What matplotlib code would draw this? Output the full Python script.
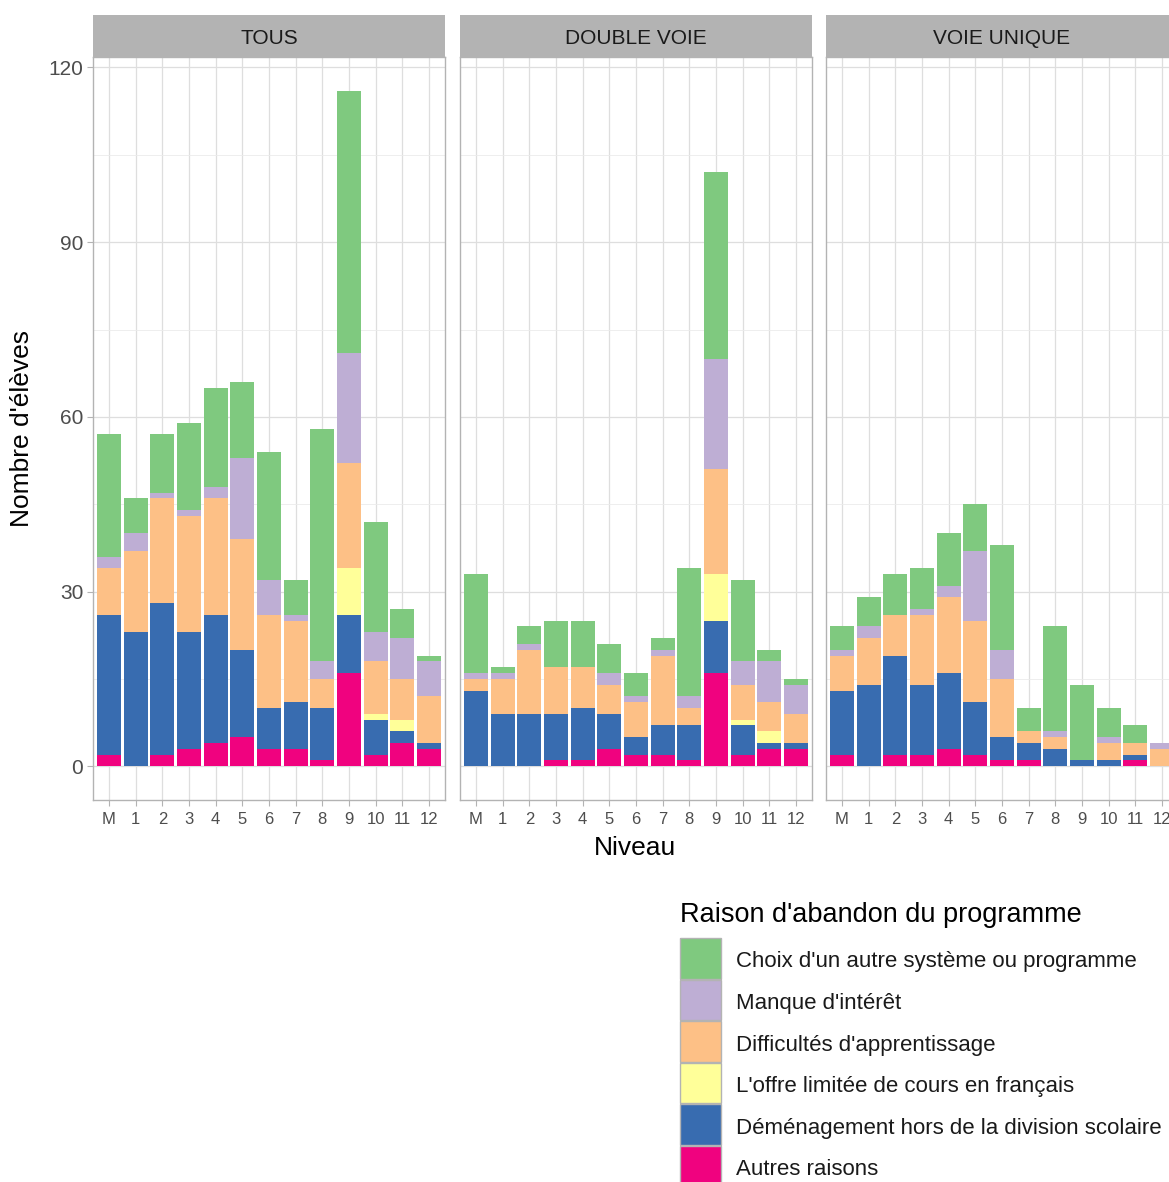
import numpy as np
import matplotlib
matplotlib.use('Agg')
import matplotlib.pyplot as plt
from matplotlib.patches import Rectangle

plt.rcParams['font.family'] = ['Liberation Sans', 'DejaVu Sans']

# Niveaux (axe x)
niveaux = ['M', '1', '2', '3', '4', '5', '6', '7', '8', '9', '10', '11', '12']

# Raisons, du bas vers le haut de la pile
raisons = ["Autres raisons",
           "Déménagement hors de la division scolaire",
           "L'offre limitée de cours en français",
           "Difficultés d'apprentissage",
           "Manque d'intérêt",
           "Choix d'un autre système ou programme"]
couleurs = ['#F0027F', '#386CB0', '#FFFF99', '#FDC086', '#BEAED4', '#7FC97F']

# TOUS
tous_autres = [2, 0, 2, 3, 4, 5, 3, 3, 1, 16, 2, 4, 3]
tous_demen = [24, 23, 26, 20, 22, 15, 7, 8, 9, 10, 6, 2, 1]
tous_offre = [0, 0, 0, 0, 0, 0, 0, 0, 0, 8, 1, 2, 0]
tous_diffic = [8, 14, 18, 20, 20, 19, 16, 14, 5, 18, 9, 7, 8]
tous_manque = [2, 3, 1, 1, 2, 14, 6, 1, 3, 19, 5, 7, 6]
tous_choix = [21, 6, 10, 15, 17, 13, 22, 6, 40, 45, 19, 5, 1]

# DOUBLE VOIE
dv_autres = [0, 0, 0, 1, 1, 3, 2, 2, 1, 16, 2, 3, 3]
dv_demen = [13, 9, 9, 8, 9, 6, 3, 5, 6, 9, 5, 1, 1]
dv_offre = [0, 0, 0, 0, 0, 0, 0, 0, 0, 8, 1, 2, 0]
dv_diffic = [2, 6, 11, 8, 7, 5, 6, 12, 3, 18, 6, 5, 5]
dv_manque = [1, 1, 1, 0, 0, 2, 1, 1, 2, 19, 4, 7, 5]
dv_choix = [17, 1, 3, 8, 8, 5, 4, 2, 22, 32, 14, 2, 1]

# VOIE UNIQUE
vu_autres = [2, 0, 2, 2, 3, 2, 1, 1, 0, 0, 0, 1, 0]
vu_demen = [11, 14, 17, 12, 13, 9, 4, 3, 3, 1, 1, 1, 0]
vu_offre = [0, 0, 0, 0, 0, 0, 0, 0, 0, 0, 0, 0, 0]
vu_diffic = [6, 8, 7, 12, 13, 14, 10, 2, 2, 0, 3, 2, 3]
vu_manque = [1, 2, 0, 1, 2, 12, 5, 0, 1, 0, 1, 0, 1]
vu_choix = [4, 5, 7, 7, 9, 8, 18, 4, 18, 13, 5, 3, 0]

panneaux = ['TOUS', 'DOUBLE VOIE', 'VOIE UNIQUE']
series = [
    [tous_autres, tous_demen, tous_offre, tous_diffic, tous_manque, tous_choix],
    [dv_autres, dv_demen, dv_offre, dv_diffic, dv_manque, dv_choix],
    [vu_autres, vu_demen, vu_offre, vu_diffic, vu_manque, vu_choix],
]

W, H = 1169, 1182
fig = plt.figure(figsize=(W / 100, H / 100), dpi=100)

lefts = [93, 460, 826]
pw = 352
top, bot = 57, 800
strip_top = 15
x = np.arange(len(niveaux))

for i, nom in enumerate(panneaux):
    ax = fig.add_axes([lefts[i] / W, 1 - bot / H, pw / W, (bot - top) / H])
    bas = np.zeros(len(niveaux))
    for vals, col in zip(series[i], couleurs):
        ax.bar(x, vals, width=0.9, bottom=bas, color=col, zorder=3)
        bas = bas + np.array(vals)

    ax.set_xlim(-0.6, len(niveaux) - 0.4)
    ax.set_ylim(-5.8, 121.8)
    ax.set_xticks(x)
    ax.set_xticklabels(niveaux)
    ax.set_yticks([0, 30, 60, 90, 120])
    ax.set_yticks([15, 45, 75, 105], minor=True)
    ax.grid(True, which='major', color='#DEDEDE', linewidth=0.9, zorder=0)
    ax.grid(True, which='minor', axis='y', color='#EBEBEB', linewidth=0.6, zorder=0)
    ax.tick_params(axis='x', colors='#B3B3B3', labelcolor='#4D4D4D', labelsize=12,
                   length=4, width=0.8, pad=5)
    ax.tick_params(axis='y', colors='#B3B3B3', labelcolor='#4D4D4D', labelsize=15,
                   length=4, width=0.8, pad=3)
    ax.tick_params(axis='y', which='minor', length=0)
    if i > 0:
        ax.tick_params(axis='y', labelleft=False, length=0)
    for s in ax.spines.values():
        s.set_color('#B3B3B3')
        s.set_linewidth(1.0)
    ax.set_axisbelow(True)

    # bandeau du panneau
    sx = fig.add_axes([lefts[i] / W, 1 - top / H, pw / W, (top - strip_top) / H])
    sx.set_facecolor('#B3B3B3')
    sx.set_xticks([])
    sx.set_yticks([])
    for s in sx.spines.values():
        s.set_visible(False)
    sx.text(0.5, 0.45, nom, ha='center', va='center', fontsize=15, color='#1A1A1A',
            transform=sx.transAxes)

# titres des axes
fig.text(635 / W, 1 - 848 / H, 'Niveau', ha='center', va='center', fontsize=19)
fig.text(22 / W, 1 - 428 / H, "Nombre d'élèves", ha='center', va='center',
         fontsize=19, rotation=90)

# Legende
fig.text(680 / W, 1 - 915 / H, "Raison d'abandon du programme", ha='left',
         va='center', fontsize=19.5)
key_top = 938
key_h = 41.6
for j, (lab, col) in enumerate(zip(raisons[::-1], couleurs[::-1])):
    y0 = key_top + j * key_h
    fig.patches.append(Rectangle((680 / W, 1 - (y0 + key_h - 1) / H), 41 / W,
                                 (key_h - 1) / H, transform=fig.transFigure,
                                 facecolor=col, edgecolor='#B3B3B3', linewidth=1))
    fig.text(736 / W, 1 - (y0 + key_h / 2 + 3) / H, lab, ha='left', va='center',
             fontsize=16, color='#1A1A1A')

fig.savefig('out.png', dpi=100)
